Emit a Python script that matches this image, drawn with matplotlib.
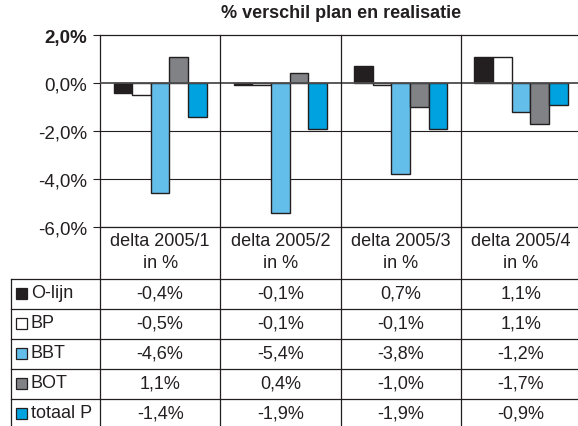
import numpy as np
import matplotlib.pyplot as plt

plt.rcParams['font.family'] = ['Liberation Sans', 'DejaVu Sans']

quarters = ['delta 2005/1', 'delta 2005/2', 'delta 2005/3', 'delta 2005/4']
series = ['O-lijn', 'BP', 'BBT', 'BOT', 'totaal P']
o_lijn = [-0.4, -0.1, 0.7, 1.1]
bp = [-0.5, -0.1, -0.1, 1.1]
bbt = [-4.6, -5.4, -3.8, -1.2]
bot = [1.1, 0.4, -1.0, -1.7]
totaal_p = [-1.4, -1.9, -1.9, -0.9]
values = [o_lijn, bp, bbt, bot, totaal_p]
colors = ['#231f20', '#ffffff', '#63bfea', '#808285', '#00a3e0']
yticks = [-6, -4, -2, 0, 2]

W, H = 578, 427
fig = plt.figure(figsize=(W / 100, H / 100), dpi=100)

# chart area in pixels
left, top, bottom, col_w = 100, 36, 228, 120.3
ax = fig.add_axes([left / W, 1 - bottom / H, 4 * col_w / W, (bottom - top) / H])
ax.set_xlim(-0.5, 3.5)
ax.set_ylim(-6, 2)

x = np.arange(len(quarters))
bw = 0.155
for i, (name, vals) in enumerate(zip(series, values)):
    ax.bar(x + (i - 2) * bw, vals, bw, color=colors[i], edgecolor='#231f20',
           linewidth=1.0, zorder=3)

for t in yticks[:-1]:
    if t == 0:
        ax.axhline(0, color='#4d4d4f', lw=1.3, zorder=4)
    else:
        ax.axhline(t, color='#231f20', lw=0.8, zorder=1)

ax.set_xticks([])
ax.set_yticks(yticks)
ax.set_yticklabels([f'{t:.1f}%'.replace('.', ',') for t in yticks], fontsize=13.5)
ax.get_yticklabels()[-1].set_fontweight('bold')
ax.tick_params(axis='y', direction='out', length=5, width=0.8, pad=4, colors='#231f20')
for side in ['left', 'top', 'bottom']:
    ax.spines[side].set_linewidth(0.9)
    ax.spines[side].set_color('#231f20')
ax.spines['right'].set_visible(False)

fig.text(341 / W, 1 - 14 / H, '% verschil plan en realisatie', ha='center',
         va='center', fontsize=13, fontweight='bold', color='#231f20')

# data table underneath, drawn on an overlay in pixel units
tab = fig.add_axes([0, 0, 1, 1], zorder=5)
tab.set_xlim(0, W)
tab.set_ylim(H, 0)
tab.axis('off')
tab.patch.set_visible(False)

lc = '#231f20'
row_top, row_h, label_x0 = 280, 30, 11
col_edges = [left + k * col_w for k in range(5)]

# vertical column separators through chart and table
for k in range(1, 4):
    tab.plot([col_edges[k]] * 2, [top, H], color=lc, lw=0.9)
tab.plot([left, left], [bottom, H], color=lc, lw=0.9)
tab.plot([label_x0, label_x0], [row_top, H], color=lc, lw=0.9)
for r in range(len(series)):
    y = row_top + r * row_h
    tab.plot([label_x0, W], [y, y], color=lc, lw=0.9)

# header cells
for k, q in enumerate(quarters):
    cx = (col_edges[k] + col_edges[k + 1]) / 2
    tab.text(cx, 242, q, ha='center', va='center', fontsize=13, color=lc)
    tab.text(cx, 264, 'in %', ha='center', va='center', fontsize=13, color=lc)

# body rows
for r, (name, vals) in enumerate(zip(series, values)):
    cy = row_top + r * row_h + row_h / 2 - 1
    tab.add_patch(plt.Rectangle((16, cy - 5.5), 11, 11, facecolor=colors[r],
                                edgecolor=lc, lw=0.9))
    tab.text(31, cy, name, ha='left', va='center', fontsize=13, color=lc)
    for k, v in enumerate(vals):
        cx = (col_edges[k] + col_edges[k + 1]) / 2
        tab.text(cx, cy, f'{v:.1f}%'.replace('.', ','), ha='center', va='center',
                 fontsize=13, color=lc)

fig.savefig('out.png', dpi=100)
